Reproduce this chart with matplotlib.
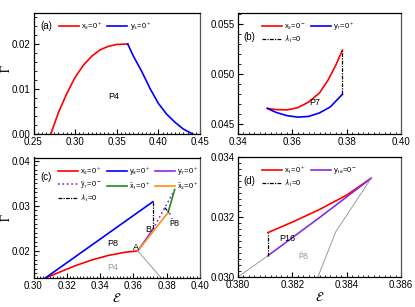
import numpy as np
import matplotlib
matplotlib.use("Agg")
import matplotlib.pyplot as plt
from matplotlib.ticker import AutoMinorLocator, MultipleLocator

plt.rcParams['font.family'] = ['Liberation Sans', 'DejaVu Sans']
plt.rcParams['mathtext.fontset'] = 'stixsans'

# ---- panel (a) ----
a_x2_x = [0.2708, 0.28, 0.29, 0.30, 0.31, 0.32, 0.33, 0.34, 0.35, 0.3632]
a_x2_y = [0.0, 0.0048, 0.0090, 0.0126, 0.0153, 0.0173, 0.0187, 0.0195, 0.0199, 0.0200]
a_y3_x = [0.3632, 0.37, 0.38, 0.39, 0.40, 0.41, 0.42, 0.43, 0.4412]
a_y3_y = [0.0200, 0.0173, 0.0139, 0.0101, 0.0068, 0.0044, 0.0026, 0.0011, 0.0]

# ---- panel (b) ----
b_x2_x = [0.3508, 0.354, 0.358, 0.362, 0.366, 0.370, 0.373, 0.376, 0.3784]
b_x2_y = [0.04655, 0.04643, 0.04640, 0.04662, 0.04718, 0.04810, 0.04930, 0.05085, 0.05235]
b_y7_x = [0.3508, 0.354, 0.358, 0.362, 0.366, 0.370, 0.374, 0.3784]
b_y7_y = [0.04655, 0.04615, 0.04583, 0.04568, 0.04575, 0.04610, 0.04670, 0.04795]
b_lam_x = [0.3784, 0.3784]
b_lam_y = [0.04795, 0.05235]

# ---- panel (c) ----
c_x2_x = [0.3071, 0.315, 0.325, 0.335, 0.345, 0.355, 0.3626]
c_x2_y = [0.0140, 0.0152, 0.0167, 0.0180, 0.0190, 0.0197, 0.0200]
c_y8_x = [0.3071, 0.3717]
c_y8_y = [0.0140, 0.0309]
c_p4_x = [0.3626, 0.3768]
c_p4_y = [0.0200, 0.0140]
c_y7_x = [0.3626, 0.3717]
c_y7_y = [0.0200, 0.0248]
c_y7t_x = [0.3717, 0.3846]
c_y7t_y = [0.0248, 0.0334]
c_x1t_x = [0.3808, 0.3848]
c_x1t_y = [0.0285, 0.0336]
c_x2t_x = [0.3626, 0.3808]
c_x2t_y = [0.0200, 0.0285]
c_lam_x = [0.3717, 0.3717]
c_lam_y = [0.0309, 0.0248]
c_lam2_x = [0.3788, 0.3822]
c_lam2_y = [0.0296, 0.0281]

# ---- panel (d) ----
d_x1_x = [0.3811, 0.382, 0.383, 0.384, 0.3849]
d_x1_y = [0.03148, 0.03183, 0.03225, 0.03273, 0.03329]
d_y16_x = [0.3811, 0.383, 0.3849]
d_y16_y = [0.03071, 0.03198, 0.03329]
d_lam_x = [0.3811, 0.3811]
d_lam_y = [0.03071, 0.03148]
d_g1_x = [0.3800, 0.3811]
d_g1_y = [0.0300, 0.03071]
d_g2_x = [0.38294, 0.3836, 0.3849]
d_g2_y = [0.0300, 0.03151, 0.03329]

RED = '#ff0000'
BLUE = '#0000ff'
PURPLE = '#8a2be2'
GREEN = '#228b22'
ORANGE = '#ff8c1a'
GRAY = '#999999'
DASHDOT = (0, (3, 1, 1, 1))
LW = 1.2

fig = plt.figure(figsize=(4.15, 3.07), dpi=100)
W, H = 415.0, 307.0

def make_ax(l, t, r, b):
    ax = fig.add_axes([l / W, 1 - b / H, (r - l) / W, (b - t) / H])
    ax.tick_params(which='both', direction='in', top=False, right=False,
                   labelsize=7, pad=2)
    ax.tick_params(which='major', length=3.5, width=0.8)
    ax.tick_params(which='minor', length=1.8, width=0.6)
    for s in ax.spines.values():
        s.set_linewidth(0.9)
    ax.spines['right'].set_color('#555555')
    return ax

def leg(ax, handles, ncol, anchor):
    ax.legend(handles=handles, loc='upper left', bbox_to_anchor=anchor, ncol=ncol,
              frameon=False, fontsize=5.5, handlelength=2.6, handletextpad=0.3,
              columnspacing=0.6, labelspacing=0.25, borderaxespad=0)

def gamma_label(ax, ypos):
    ax.set_ylabel(r'$\bar{\mathit{\Gamma}}$', fontsize=8.5, math_fontfamily='stix')
    ax.yaxis.set_label_coords(-0.115, ypos)

# (a)
ax = make_ax(33.5, 12.5, 200, 134)
h1, = ax.plot(a_x2_x, a_x2_y, color=RED, lw=LW, label=r'x$_2$=0$^+$')
h2, = ax.plot(a_y3_x, a_y3_y, color=BLUE, lw=LW, label=r'y$_3$=0$^+$')
ax.set_xlim(0.25, 0.45)
ax.set_ylim(0, 0.027)
ax.xaxis.set_major_locator(MultipleLocator(0.05))
ax.yaxis.set_major_locator(MultipleLocator(0.01))
ax.xaxis.set_minor_locator(AutoMinorLocator(10))
ax.yaxis.set_minor_locator(AutoMinorLocator(5))
ax.xaxis.set_major_formatter(plt.FormatStrFormatter('%.2f'))
ax.yaxis.set_major_formatter(plt.FormatStrFormatter('%.2f'))
ax.text(0.04, 0.93, '(a)', transform=ax.transAxes, fontsize=7, va='top')
ax.text(0.34, 0.0077, 'P4', fontsize=6.5)
gamma_label(ax, 0.54)
leg(ax, [h1, h2], 2, (0.135, 0.97))

# (b)
ax = make_ax(238, 12.5, 401, 134)
h1, = ax.plot(b_x2_x, b_x2_y, color=RED, lw=LW, label=r'x$_2$=0$^-$')
h2, = ax.plot(b_y7_x, b_y7_y, color=BLUE, lw=LW, label=r'y$_7$=0$^+$')
h3, = ax.plot(b_lam_x, b_lam_y, color='black', lw=0.9, ls=DASHDOT, label=r'$\lambda_1$=0')
ax.set_xlim(0.34, 0.40)
ax.set_ylim(0.044, 0.0561)
ax.xaxis.set_major_locator(MultipleLocator(0.02))
ax.yaxis.set_major_locator(MultipleLocator(0.005))
ax.xaxis.set_minor_locator(AutoMinorLocator(10))
ax.yaxis.set_minor_locator(AutoMinorLocator(5))
ax.xaxis.set_major_formatter(plt.FormatStrFormatter('%.2f'))
ax.yaxis.set_major_formatter(plt.FormatStrFormatter('%.3f'))
ax.text(0.03, 0.84, '(b)', transform=ax.transAxes, fontsize=7, va='top')
ax.text(0.3662, 0.0469, 'P7', fontsize=6.5)
leg(ax, [h1, h3, h2], 2, (0.13, 0.97))

# (c)
ax = make_ax(33.5, 157.5, 200, 278)
h1, = ax.plot(c_x2_x, c_x2_y, color=RED, lw=LW, label=r'x$_2$=0$^+$')
h2, = ax.plot(c_y8_x, c_y8_y, color=BLUE, lw=LW, label=r'y$_8$=0$^+$')
h3, = ax.plot(c_y7_x, c_y7_y, color=PURPLE, lw=LW, label=r'y$_7$=0$^+$')
h4, = ax.plot(c_y7t_x, c_y7t_y, color=PURPLE, lw=LW, ls=':', label=r'$\tilde{\mathrm{y}}_7$=0$^-$')
h5, = ax.plot(c_x1t_x, c_x1t_y, color=GREEN, lw=LW, label=r'$\tilde{\mathrm{x}}_1$=0$^+$')
h6, = ax.plot(c_x2t_x, c_x2t_y, color=ORANGE, lw=LW, label=r'$\tilde{\mathrm{x}}_2$=0$^+$')
h7, = ax.plot(c_lam_x, c_lam_y, color='black', lw=0.9, ls=DASHDOT, label=r'$\lambda_1$=0')
ax.plot(c_lam2_x, c_lam2_y, color='black', lw=0.9, ls=DASHDOT)
ax.plot(c_p4_x, c_p4_y, color=GRAY, lw=0.7)
ax.set_xlim(0.30, 0.40)
ax.set_ylim(0.014, 0.0407)
ax.xaxis.set_major_locator(MultipleLocator(0.02))
ax.yaxis.set_major_locator(MultipleLocator(0.01))
ax.xaxis.set_minor_locator(AutoMinorLocator(10))
ax.yaxis.set_minor_locator(AutoMinorLocator(10))
ax.xaxis.set_major_formatter(plt.FormatStrFormatter('%.2f'))
ax.yaxis.set_major_formatter(plt.FormatStrFormatter('%.2f'))
ax.text(0.04, 0.88, '(c)', transform=ax.transAxes, fontsize=7, va='top')
ax.text(0.3445, 0.0212, 'P8', fontsize=6.5)
ax.text(0.3445, 0.0158, 'P4', fontsize=6.5, color=GRAY)
ax.text(0.3670, 0.0242, 'B', fontsize=6.5)
ax.text(0.3596, 0.0202, 'A', fontsize=6.5)
ax.text(0.3815, 0.0253, r'$\tilde{\mathrm{P}}$8', fontsize=6.5)
gamma_label(ax, 0.5)
ax.set_xlabel(r'$\mathcal{E}$', fontsize=9, labelpad=1)
leg(ax, [h1, h4, h7, h2, h5, h3, h6], 3, (0.13, 0.97))

# (d)
ax = make_ax(238, 157, 401, 277)
h1, = ax.plot(d_x1_x, d_x1_y, color=RED, lw=LW, label=r'x$_1$=0$^+$')
h2, = ax.plot(d_y16_x, d_y16_y, color=PURPLE, lw=LW, label=r'y$_{16}$=0$^-$')
h3, = ax.plot(d_lam_x, d_lam_y, color='black', lw=0.9, ls=DASHDOT, label=r'$\lambda_1$=0')
ax.plot(d_g1_x, d_g1_y, color=GRAY, lw=0.7)
ax.plot(d_g2_x, d_g2_y, color=GRAY, lw=0.7)
ax.set_xlim(0.380, 0.386)
ax.set_ylim(0.030, 0.034)
ax.xaxis.set_major_locator(MultipleLocator(0.002))
ax.yaxis.set_major_locator(MultipleLocator(0.002))
ax.xaxis.set_minor_locator(AutoMinorLocator(10))
ax.yaxis.set_minor_locator(AutoMinorLocator(10))
ax.xaxis.set_major_formatter(plt.FormatStrFormatter('%.3f'))
ax.yaxis.set_major_formatter(plt.FormatStrFormatter('%.3f'))
ax.text(0.03, 0.84, '(d)', transform=ax.transAxes, fontsize=7, va='top')
ax.text(0.3815, 0.0312, 'P16', fontsize=6.5)
ax.text(0.3822, 0.03055, r'$\tilde{\mathrm{P}}$8', fontsize=6.5, color=GRAY)
ax.set_xlabel(r'$\mathcal{E}$', fontsize=9, labelpad=1)
leg(ax, [h1, h3, h2], 2, (0.13, 0.97))

fig.savefig('out.png', dpi=100)
